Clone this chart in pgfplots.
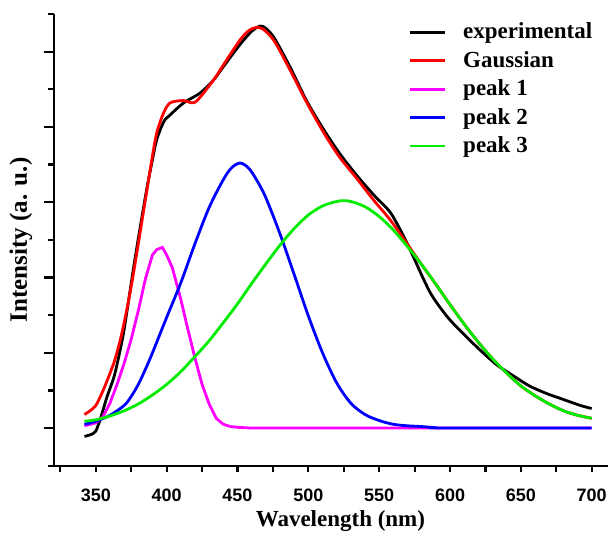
\documentclass[border=0pt]{standalone}
\usepackage{fontspec}
\setmainfont{Liberation Serif}
\newfontfamily\arialfont{Liberation Sans}
\usepackage{pgfplots}
\pgfplotsset{compat=1.18}
\definecolor{pkmag}{RGB}{255,0,255}
\definecolor{pkblue}{RGB}{0,0,255}
\definecolor{pkgreen}{RGB}{0,235,0}
\definecolor{pkred}{RGB}{255,0,0}

\begin{document}
\begin{tikzpicture}
% y axis only (longer major ticks than x)
\begin{axis}[
  scale only axis,
  width=277pt, height=225.85pt,
  xmin=320.5, xmax=711.5,
  ymin=-0.5, ymax=5.5,
  axis y line*=left, axis x line=none,
  xtick=\empty,
  ytick={0,1,...,5},
  minor ytick={-0.5,0.5,...,5.5},
  yticklabels={},
  tick align=outside,
  major tick length=5pt, minor tick length=2.8pt,
  tick style={line width=1.1pt, black},
  axis line style={line width=1.1pt},
  ylabel={\bfseries Intensity (a. u.)},
  ylabel style={at={(axis description cs:-0.0596,0.5)}, anchor=center, font=\fontsize{12.5}{13}\selectfont},
]
\end{axis}

\begin{axis}[
  scale only axis,
  width=277pt, height=225.85pt,
  xmin=320.5, xmax=711.5,
  ymin=-0.5, ymax=5.5,
  axis x line*=bottom, axis y line=none,
  ytick=\empty,
  xtick={350,400,...,700},
  minor xtick={325,375,...,675},
  tick align=outside,
  major tick length=3pt, minor tick length=3pt,
  tick style={line width=1.1pt, black},
  axis line style={line width=1.1pt},
  /pgf/number format/assume math mode=true,
  xticklabel style={font=\arialfont\bfseries\fontsize{9}{10}\selectfont, anchor=base, yshift=-14.8pt},
  xlabel={\bfseries Wavelength (nm)},
  xlabel style={at={(axis description cs:0.517,0)}, anchor=base, yshift=-30.5pt, font=\fontsize{11.5}{12}\selectfont},
  legend style={at={(axis description cs:0.639,0.981)}, anchor=north west, draw=none, fill=none,
    font=\bfseries\fontsize{11.5}{12}\selectfont, inner sep=0pt, row sep=4.7pt, column sep=8.5pt,
    nodes={inner sep=0pt}},
  legend cell align=left,
  legend image code/.code={\draw[#1] (0pt,0pt) -- (17.5pt,0pt);},
  every axis plot/.append style={line width=1.4pt},
]
\addplot[black, smooth] coordinates {
(342,-0.11) (346,-0.09) (350,-0.04) (354,0.17) (358,0.42) (363,0.69) (367,1.02) (370,1.31)
(374,1.80) (377,2.17) (381,2.63) (386,3.18) (389.5,3.52) (393,3.83) (398,4.07) (402.5,4.16)
(412,4.32) (423.6,4.45) (433,4.62) (440,4.80) (452,5.10) (460,5.27) (466,5.34) (470,5.31)
(476,5.18) (487,4.80) (499,4.34) (511,3.96) (522,3.65) (534,3.36) (546,3.10) (558,2.86)
(568,2.52) (574,2.28) (586,1.80) (598,1.48) (609,1.26) (621,1.04) (633,0.84) (645,0.69)
(656,0.56) (668,0.46) (680,0.38) (692,0.30) (700,0.26)};
\addlegendentry{experimental}
\addplot[pkred, smooth] coordinates {
(342,0.18) (346,0.23) (350,0.30) (354,0.45) (358,0.63) (363,0.88) (367,1.15) (370,1.40)
(375,1.88) (380,2.45) (386,3.15) (389.5,3.56) (393,3.92) (397.7,4.18) (402.5,4.32) (412,4.35)
(417.8,4.32) (422,4.36) (433,4.62) (442,4.88) (452,5.16) (458,5.28) (463,5.32) (468,5.30) (476,5.14)
(487,4.76) (499,4.32) (511,3.92) (522,3.60) (534,3.32) (546,3.03) (558,2.76) (570,2.44)
(580,2.17) (590,1.91) (600,1.64) (610,1.38) (620,1.14) (630,0.92) (640,0.73) (650,0.56)
(660,0.43) (670,0.32) (680,0.23) (690,0.17) (700,0.13)};
\addlegendentry{Gaussian}
\addplot[pkmag] coordinates {
(342,0.03) (350,0.07) (355,0.15) (360,0.33) (365,0.58) (370,0.86) (375,1.18) (380,1.56)
(385,1.98) (390,2.30) (393,2.37) (397,2.40) (400,2.30) (404,2.13) (410,1.71) (415,1.31)
(420,0.93) (425,0.58) (430,0.32) (435,0.13) (440,0.05) (445,0.02) (450,0.01) (460,0) (700,0)};
\addlegendentry{peak 1}
\addplot[pkblue, smooth] coordinates {
(342,0.05) (350,0.09) (360,0.17) (370,0.30) (375,0.42) (380,0.58) (385,0.78) (390,1.00)
(400,1.47) (410,1.93) (420,2.45) (430,2.93) (440,3.30) (446,3.46) (452,3.52) (458,3.45)
(464,3.28) (470,3.06) (480,2.58) (490,2.04) (500,1.49) (510,1.00) (520,0.60) (530,0.33)
(540,0.18) (550,0.10) (560,0.05) (570,0.03) (580,0.02) (590,0.005) (600,0) (700,0)};
\addlegendentry{peak 2}
\addplot[pkgreen, smooth] coordinates {
(342,0.09) (350,0.11) (360,0.16) (370,0.23) (380,0.32) (390,0.44) (400,0.58) (410,0.75)
(420,0.95) (430,1.16) (440,1.40) (450,1.65) (460,1.92) (470,2.18) (480,2.43) (490,2.65)
(500,2.83) (510,2.95) (520,3.01) (525,3.02) (530,3.01) (540,2.94) (550,2.81) (560,2.63)
(570,2.41) (580,2.17) (590,1.91) (600,1.64) (610,1.38) (620,1.14) (630,0.92) (640,0.73)
(650,0.56) (660,0.43) (670,0.32) (680,0.23) (690,0.17) (700,0.13)};
\addlegendentry{peak 3}
\end{axis}
\pgfresetboundingbox
\path[use as bounding box] (-27pt,-34.15pt) rectangle (277pt,232.85pt);
\end{tikzpicture}
\end{document}
